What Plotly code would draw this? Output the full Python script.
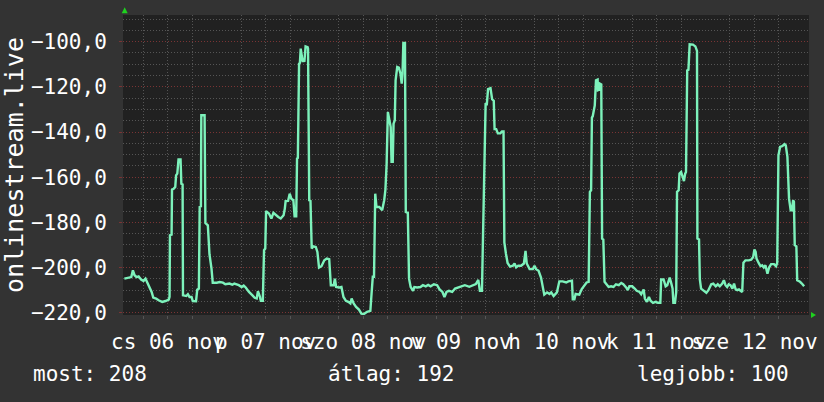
from datetime import datetime, timedelta
import plotly.graph_objects as go

# one week of samples, hours counted from 2025-11-06 00:00
start = datetime(2025, 11, 6)

hours = [
    1.3, 2.5, 3.0, 3.4, 3.8, 4.3, 4.8, 5.4, 6.0, 6.5, 7.0, 7.6, 8.0, 8.4, 9.1, 9.7, 10.6, 11.4, 12.2, 12.4,
    12.5, 12.9, 13.0, 13.4, 13.8, 14.0, 14.3, 14.6, 15.1, 15.3, 15.6, 15.7, 16.5, 16.9, 17.3, 17.8, 18.1, 18.9,
    19.2, 19.6, 19.8, 20.1, 20.2, 21.0, 21.2, 21.8, 22.2, 22.7, 23.0, 24.0, 24.7, 25.5, 26.1, 27.1, 27.8, 28.3,
    29.4, 30.1, 30.6, 31.1, 31.9, 32.7, 33.3, 33.8, 34.1, 34.6, 34.8, 35.3, 35.6, 35.9, 36.1, 36.8, 37.4, 37.9,
    38.5, 39.1, 39.7, 40.4, 40.7, 40.9, 41.5, 41.9, 42.3, 42.8, 43.1, 43.5, 43.7, 43.9, 44.2, 44.4, 44.6, 45.1,
    45.3, 45.5, 45.8, 46.3, 46.4, 46.7, 47.0, 47.3, 47.7, 48.3, 48.7, 49.1, 49.7, 50.4, 51.0, 51.6, 52.0, 52.7,
    53.0, 53.3, 54.1, 54.6, 55.1, 55.7, 56.3, 56.8, 57.1,
    57.6, 58.2, 58.9, 59.5, 60.1, 60.9, 61.7, 62.0, 62.3, 62.6, 62.9, 63.2, 63.9, 64.6, 65.1, 65.4, 65.7, 66.0,
    66.4, 66.7, 66.9, 67.2, 67.4, 67.7, 67.9, 68.3, 68.7, 69.1, 69.4, 69.6, 69.8, 70.2, 70.4, 70.9, 71.2, 71.6,
    72.2, 72.5, 73.2, 74.0, 74.6, 75.3, 75.9, 76.5, 77.3, 78.1, 78.7, 79.4, 79.9, 80.4, 81.0, 81.8, 82.5, 83.5,
    84.3, 84.9,
    86.0, 86.8, 87.6, 88.2, 88.6, 89.1, 89.4, 89.7, 90.0, 90.3, 90.6, 91.2, 91.6, 92.0, 92.2, 92.6, 93.0, 93.6,
    94.0, 94.4, 94.6, 95.0, 95.4, 96.0, 96.7, 97.1, 97.5, 98.0, 98.7, 99.4, 99.8, 100.1, 100.8, 101.6, 102.0,
    102.4, 103.0, 103.6, 104.0, 104.4, 105.1, 105.7, 106.1, 106.7, 107.5, 108.1, 108.9, 109.8, 110.3, 111.2,
    111.4, 111.8, 112.1, 113.0, 113.6,
    114.3, 114.8, 115.3, 115.6, 115.9, 116.1, 116.3, 116.6, 116.8, 117.1, 117.5, 117.6, 118.0, 118.1, 118.4,
    118.6, 118.9, 119.2, 119.6, 120.2, 120.8, 121.4, 122.0, 122.7, 123.3, 123.8, 124.5, 124.9, 125.3, 126.0,
    126.6, 127.1, 127.8, 128.2, 128.8, 129.1, 129.6, 130.1, 130.5, 131.1, 131.7, 132.3, 132.9, 133.1, 133.7,
    134.2, 134.6, 135.2, 135.6, 135.9, 136.1, 136.5, 136.8, 137.0, 137.4, 137.6, 138.0, 138.4, 138.7, 139.0,
    139.2, 139.5, 139.8, 140.1, 140.9, 141.5,
    141.9, 142.0, 142.4, 142.6, 142.9, 143.6, 144.2, 144.7, 145.4, 145.9, 146.5, 147.0, 147.5, 148.1, 148.5,
    148.9, 149.3, 149.7, 150.1, 150.6, 151.0, 151.4, 151.8, 152.2, 152.6, 153.0, 153.3, 153.8, 154.6, 155.2,
    155.7, 156.0, 156.3, 156.5, 157.1, 157.5, 157.9, 158.3, 158.7, 159.2, 159.6, 160.1, 160.8, 161.3, 161.6,
    161.9, 162.3, 162.8, 163.4, 163.7, 164.1, 164.5, 164.9, 165.2, 165.5, 165.7, 165.9, 166.3, 166.5, 167.2,
    167.8, 168.2,
]

values = [
    -204.9, -204.6, -204.2, -201.2, -203.4, -204.2, -203.9, -205.3, -205.9, -204.9, -206.8, -208.6, -210.8,
    -213.3, -213.7, -214.5, -215.2, -214.8, -214.2, -213.0,
    -185.7, -185.4, -165.5, -165.1, -164.3, -159.2, -158.4, -152.1, -152.1, -162.9, -163.2, -212.3, -212.6,
    -211.8, -213.0, -213.0, -214.8, -214.9,
    -209.8, -209.3, -173.2, -172.9, -132.6, -132.6, -180.3, -181.3, -194.1, -200.5, -206.7, -206.7, -206.4,
    -206.7, -207.4, -207.1, -207.6, -207.1,
    -207.8, -208.6, -208.0, -208.8, -210.8, -212.2, -213.4, -213.7, -210.5, -213.0, -214.7, -214.7, -192.3,
    -191.6, -175.1, -176.1, -178.3, -175.8,
    -176.8, -177.6, -178.3, -176.8, -173.9, -170.6, -170.5, -167.3, -169.5, -170.2, -177.3, -177.3, -151.8,
    -151.5, -109.7, -109.4, -103.1, -109.0,
    -107.5, -109.0, -102.1, -102.4, -103.1, -170.2, -170.5, -191.6, -190.6, -190.9, -193.1, -200.0, -199.4,
    -196.8, -196.0, -196.3, -207.8, -207.8,
    -204.9, -208.6, -208.8, -208.6, -213.0, -214.7, -215.2, -215.9, -213.7,
    -215.9, -217.4, -218.6, -220.4, -220.6, -219.6, -219.2, -211.5, -204.1, -204.1, -167.3, -173.2, -173.2,
    -174.6, -170.2, -165.5, -154.0, -131.1,
    -136.3, -137.8, -153.2, -153.2, -136.3, -134.8, -117.1, -111.2, -111.5, -114.2, -118.6, -114.2, -100.6,
    -100.6, -175.4, -175.8, -204.9, -208.6,
    -210.3, -208.6, -208.8, -208.6, -207.8, -208.3, -207.7, -208.3, -207.4, -207.8, -209.7, -210.8, -213.0,
    -210.8, -210.3, -210.8, -209.3, -208.8,
    -208.3, -207.8,
    -208.5, -207.8, -207.3, -205.5, -210.3, -210.3, -183.7, -155.7, -127.7, -127.7, -121.0, -120.6, -125.5,
    -126.2, -138.7, -138.7, -140.6, -140.6,
    -139.8, -139.8, -188.9, -194.0, -198.0, -199.6, -199.2, -198.2, -199.9, -199.2, -199.2, -198.2, -192.6,
    -198.2, -200.7, -200.7, -199.2,
    -200.7, -201.4, -204.4, -208.1, -212.0, -211.0, -211.7, -211.0, -212.6, -211.0, -206.1, -206.1, -206.6,
    -206.1, -205.8,
    -214.0, -214.0, -211.7, -212.0, -209.5,
    -207.8, -206.6, -206.3, -166.5, -165.8, -133.6, -133.0, -128.6, -128.2, -117.1, -116.8, -121.5, -121.2,
    -118.6, -118.9,
    -187.2, -187.6, -206.3, -207.1, -208.6, -208.3, -208.6, -207.4, -207.8, -206.8, -207.4, -208.8, -210.0,
    -208.3, -208.3,
    -209.3, -210.3, -210.8, -211.8, -209.7, -213.7, -215.2, -213.0, -214.7, -215.6, -215.2, -215.6, -215.6,
    -205.3, -205.3,
    -208.3, -207.8, -204.4, -207.1, -209.3, -215.6, -215.6, -210.8, -166.5, -165.8, -158.4, -157.7, -159.9,
    -161.7, -158.4,
    -157.7, -112.7, -112.4, -101.2, -101.3, -102.1,
    -104.1, -187.2, -187.6, -205.3, -209.3, -210.3, -211.2, -210.0, -207.4, -207.1, -208.3, -207.4, -208.3,
    -207.1, -205.6,
    -207.8, -208.6, -207.4, -207.8, -209.3, -207.1, -209.7, -210.0, -209.7, -210.3, -210.8, -197.9, -196.8,
    -196.8, -196.5,
    -195.3, -192.0, -193.1, -196.0, -198.2, -199.4, -199.0, -200.0, -199.0, -202.7, -200.0, -198.5, -198.5,
    -199.4, -197.9,
    -150.3, -146.6, -146.3, -145.4, -145.9, -151.0, -169.5, -174.6, -174.6, -170.2, -170.9, -190.1, -190.6,
    -205.6, -206.3,
    -207.4, -208.3,
]

day_labels = ["cs 06 nov", "p 07 nov", "szo 08 nov", "v 09 nov", "h 10 nov", "k 11 nov", "sze 12 nov"]
y_ticks = [-220, -200, -180, -160, -140, -120, -100]
current, average, best = 208, 192, 100

GRAY = "#555555"
RED = "#7a3434"
DOTS = "1px,2px"
FONT = "DejaVu Sans Mono"

# figure pixels -> paper coords (plot area 123..809 x 15..315)
def px(x):
    return (x - 123.3) / 685.7

def py(y):
    return (315.0 - y) / 300.3

times = [start + timedelta(hours=h) for h in hours]
noons = [start + timedelta(days=i, hours=12) for i in range(len(day_labels))]
midnights = [start + timedelta(days=i) for i in range(len(day_labels) + 2)]
x_range = [start + timedelta(hours=0.97), start + timedelta(hours=169.4)]

fig = go.Figure(go.Scatter(
    x=times, y=values, mode="lines",
    line=dict(color="#7df2bb", width=2.4), hoverinfo="skip",
))

fig.update_layout(
    width=824, height=402,
    paper_bgcolor="#333333", plot_bgcolor="#212121",
    margin=dict(l=123, r=15, t=15, b=87),
    font=dict(family=FONT, size=21, color="#ffffff"),
    separators=",.",
    showlegend=False,
    xaxis=dict(
        type="date", range=x_range, tickvals=noons, ticktext=day_labels,
        tickangle=0, automargin=False,
        showgrid=True, gridcolor=GRAY, griddash=DOTS, gridwidth=1,
        ticks="outside", ticklen=3, tickcolor=GRAY, ticklabelstandoff=5,
        minor=dict(tick0=start + timedelta(hours=6), dtick=12 * 3600 * 1000,
                   showgrid=True, gridcolor=GRAY, griddash=DOTS, gridwidth=1,
                   ticks="outside", ticklen=3, tickcolor=GRAY),
        zeroline=False, showline=False, fixedrange=True,
    ),
    xaxis2=dict(
        type="date", range=x_range, overlaying="x", anchor="y", side="bottom",
        tickvals=midnights, showticklabels=False, automargin=False,
        showgrid=True, gridcolor=RED, griddash=DOTS, gridwidth=1,
        ticks="outside", ticklen=3, tickcolor=RED, zeroline=False,
    ),
    yaxis=dict(
        range=[-221.0, -88.2], tickvals=y_ticks, tickformat=".1f", automargin=False,
        showgrid=True, gridcolor=RED, griddash=DOTS, gridwidth=1,
        ticks="outside", ticklen=3, tickcolor=RED, ticklabelstandoff=8,
        minor=dict(dtick=5, showgrid=True, gridcolor=GRAY, griddash=DOTS, gridwidth=1),
        title=dict(text="onlinestream.live", standoff=5),
        zeroline=False, showline=False, fixedrange=True,
    ),
)

legend_items = [
    (f"most: {current}", 31),
    (f"átlag: {average}", 326),
    (f"legjobb: {best}", 635),
]
for text, left in legend_items:
    fig.add_annotation(
        text=text, x=px(left), y=py(374), xref="paper", yref="paper",
        xanchor="left", yanchor="middle", showarrow=False,
        font=dict(family=FONT, size=21, color="#ffffff"),
    )

# rrdtool style axis arrows
fig.add_shape(type="path", xref="paper", yref="paper", line=dict(width=0), fillcolor="#1fd11f",
              path=f"M {px(122)} {py(13)} L {px(128)} {py(13)} L {px(125)} {py(7)} Z")
fig.add_shape(type="path", xref="paper", yref="paper", line=dict(width=0), fillcolor="#1fd11f",
              path=f"M {px(811)} {py(312)} L {px(811)} {py(318)} L {px(816)} {py(315)} Z")

fig.write_html("out.html", config={"displayModeBar": False},
               post_script="document.body.style.margin='0';"
                           "document.body.style.background='#333333';")
